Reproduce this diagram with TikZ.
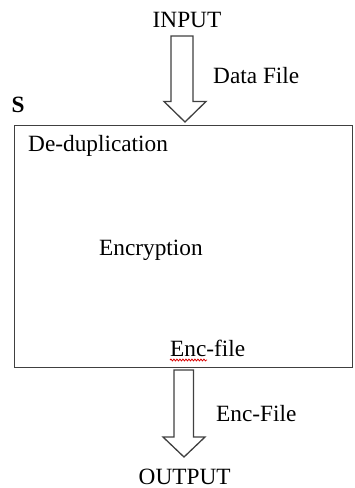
\documentclass[tikz,border=0pt]{standalone}
\usepackage{fontspec}
\setmainfont{Liberation Serif}
\usetikzlibrary{decorations.pathmorphing}
\begin{document}
\begin{tikzpicture}[x=1pt,y=-1pt,
  lbl/.style={inner sep=0pt,anchor=base west,font=\fontsize{23.3}{27}\selectfont},
  blockarrow/.style={draw=black!75,line width=1.3pt,fill=white,line join=miter},
  frame/.style={draw=black!75,line width=1.4pt}]
\useasboundingbox (0,0) rectangle (354,488);
% box
\node[frame,inner sep=0pt,anchor=north west,minimum width=338pt,minimum height=242pt] (S) at (14,125) {};
% texts
\node[lbl] (input) at (152.5,27) {INPUT};
\node[lbl] (datafile) at (213,83) {Data File};
\node[lbl,font=\fontsize{23.3}{27}\selectfont\bfseries] (slabel) at (11.5,112) {S};
\node[lbl] (dedup) at (28,151.5) {De-duplication};
\node[lbl] (enc) at (99,255) {Encryption};
\node[lbl] (encfile) at (170,356) {Enc-file};
\node[lbl] (encFile) at (216,421) {Enc-File};
\node[lbl] (output) at (138.5,484) {OUTPUT};
% spell-check underline
\draw[red!85!black,line width=0.8pt,decorate,decoration={snake,amplitude=0.9pt,segment length=3pt}]
  ([yshift=-4pt]encfile.base west) -- ++(37,0);
% input arrow
\draw[blockarrow] (171,36) -- (193,36) -- (193,101.5) -- (206,101.5) -- (185,122) -- (164,101.5) -- (171,101.5) -- cycle;
% output arrow
\draw[blockarrow] (174,370) -- (193.5,370) -- (193.5,437) -- (205,437) -- (184,457) -- (163,437) -- (174,437) -- cycle;
\end{tikzpicture}
\end{document}
